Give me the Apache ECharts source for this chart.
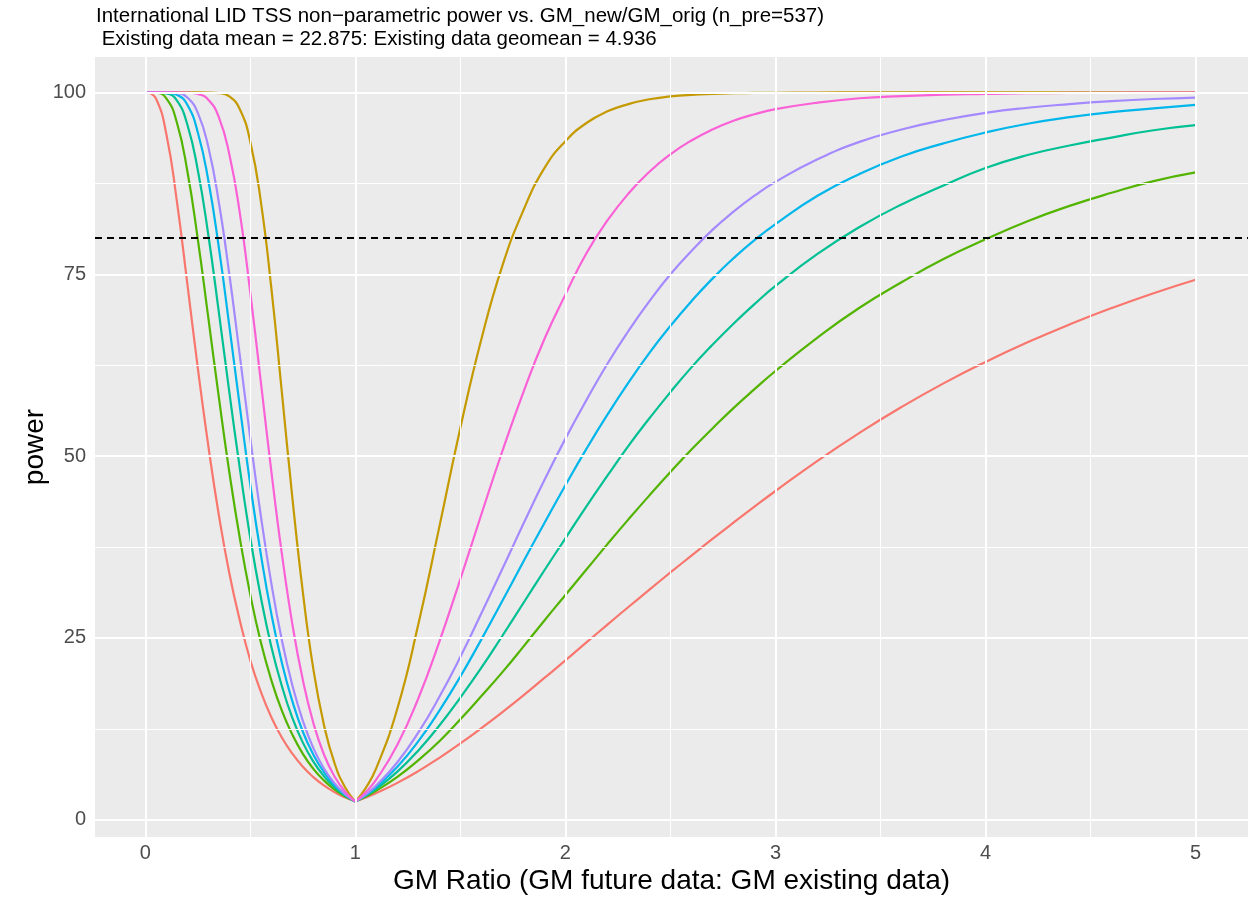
<!DOCTYPE html>
<html>
<head>
<meta charset="utf-8">
<title>International LID TSS non-parametric power</title>
<script src="https://cdn.jsdelivr.net/npm/echarts@6/dist/echarts.min.js"></script>
<style>
  html, body { margin: 0; padding: 0; background: #fff; }
  #chart { width: 1248px; height: 902px; }
</style>
</head>
<body>
<div id="chart"></div>
<script>
const ratio = [0.01, 0.05, 0.1, 0.15, 0.2, 0.25, 0.3, 0.35, 0.4, 0.45, 0.5, 0.55, 0.6, 0.65, 0.7, 0.75, 0.8, 0.85, 0.9, 0.95,
  1, 1.05, 1.1, 1.2, 1.3, 1.4, 1.5, 1.6, 1.7, 1.8, 1.9, 2, 2.1, 2.2, 2.3, 2.4, 2.5, 2.6, 2.7, 2.8, 2.9, 3,
  3.2, 3.4, 3.6, 3.8, 4, 4.2, 4.4, 4.6, 4.8, 5]

// power (%) per curve, same order as ratio
const powerRed = [100, 99.2, 94.3, 85.1, 73.7, 62.1, 51.4, 41.9, 33.9, 27.4, 21.9, 17.6, 14.1, 11.3, 9.08, 7.28, 5.86, 4.72, 3.81, 3.08,
  2.5, 3.05, 3.66, 5.07, 6.69, 8.51, 10.5, 12.6, 14.8, 17.1, 19.5, 21.9, 24.38, 26.83, 29.25, 31.64, 34.0, 36.32, 38.61, 40.85, 43.05, 45.2,
  49.35, 53.2, 56.75, 60.0, 62.95, 65.65, 68.1, 70.35, 72.4, 74.25]
const powerGold = [100, 100, 100, 100, 100, 100, 99.99, 99.92, 99.45, 97.7, 93.2, 85.0, 73.1, 58.8, 44.3, 31.3, 20.7, 13.1, 7.84, 4.51,
  2.5, 4.39, 7.12, 15.3, 26.9, 40.3, 53.9, 66.1, 76.2, 83.8, 89.6, 93.3, 95.8, 97.4, 98.4, 99.07, 99.45, 99.68, 99.81, 99.89, 99.94, 99.96,
  99.99, 100, 100, 100, 100, 100, 100, 100, 100, 100]
const powerGreen = [100, 99.97, 99.2, 95.9, 89.2, 79.8, 69.0, 58.1, 47.8, 38.7, 30.9, 24.4, 19.2, 15.0, 11.7, 9.06, 7.0, 5.41, 4.18, 3.23,
  2.5, 3.19, 4.0, 5.9, 8.2, 10.8, 13.8, 17.0, 20.3, 23.8, 27.4, 30.9, 34.4, 37.9, 41.3, 44.6, 47.8, 50.9, 53.8, 56.6, 59.2, 61.7,
  66.3, 70.4, 73.9, 77.1, 79.8, 82.3, 84.4, 86.2, 87.8, 89.0]
const powerTeal = [100, 100, 99.88, 98.9, 95.6, 89.3, 80.4, 69.8, 58.8, 48.3, 38.7, 30.6, 23.8, 18.4, 14.0, 10.6, 8.0, 6.0, 4.49, 3.35,
  2.5, 3.31, 4.26, 6.61, 9.53, 12.95, 16.8, 20.9, 25.3, 29.8, 34.3, 38.7, 43.1, 47.3, 51.4, 55.2, 58.8, 62.2, 65.3, 68.2, 70.9, 73.4,
  77.8, 81.5, 84.6, 87.2, 89.6, 91.4, 92.7, 93.8, 94.8, 95.5]
const powerBlue = [100, 100, 99.98, 99.7, 98.3, 94.5, 87.9, 78.7, 67.9, 56.8, 46.0, 36.5, 28.3, 21.6, 16.3, 12.1, 8.95, 6.56, 4.78, 3.46,
  2.5, 3.41, 4.51, 7.28, 10.8, 15.0, 19.7, 24.8, 30.1, 35.5, 40.8, 46.0, 51.0, 55.7, 60.1, 64.2, 67.9, 71.3, 74.4, 77.2, 79.7, 81.9,
  85.8, 88.8, 91.2, 93.0, 94.5, 95.7, 96.6, 97.3, 97.8, 98.3]
const powerPurple = [100, 100, 100, 99.92, 99.3, 97.2, 92.5, 84.9, 75.0, 63.8, 52.4, 41.8, 32.5, 24.7, 18.5, 13.6, 9.84, 7.07, 5.03, 3.55,
  2.5, 3.5, 4.73, 7.9, 12.0, 16.9, 22.4, 28.4, 34.5, 40.7, 46.7, 52.4, 57.7, 62.7, 67.2, 71.3, 75.0, 78.2, 81.1, 83.6, 85.8, 87.7,
  90.8, 93.2, 94.9, 96.2, 97.2, 97.9, 98.4, 98.8, 99.1, 99.3]
const powerPink = [100, 100, 100, 100, 99.99, 99.8, 99.0, 96.6, 91.5, 83.4, 72.4, 60.2, 47.9, 36.6, 26.9, 19.2, 13.3, 9.0, 5.97, 3.89,
  2.5, 3.82, 5.54, 10.3, 16.7, 24.5, 33.1, 42.0, 50.7, 58.8, 66.1, 72.2, 77.9, 82.4, 86.1, 89.1, 91.5, 93.4, 94.9, 96.1, 97.0, 97.7,
  98.6, 99.2, 99.5, 99.7, 99.8, 99.9, 99.93, 99.96, 99.98, 99.99]

const curveNames = ['curve 1', 'curve 2', 'curve 3', 'curve 4', 'curve 5', 'curve 6', 'curve 7']
const curveColors = ['#F8766D', '#C49A00', '#53B400', '#00C094', '#00B6EB', '#A58AFF', '#FB61D7']
const curves = [powerRed, powerGold, powerGreen, powerTeal, powerBlue, powerPurple, powerPink]

const targetPower = 80

const xMajor = [0, 1, 2, 3, 4, 5]
const xMinor = [0.5, 1.5, 2.5, 3.5, 4.5]
const yMajor = [0, 25, 50, 75, 100]
const yMinor = [12.5, 37.5, 62.5, 87.5]

const FONT = '"Liberation Sans", Arial, sans-serif'

const chart = echarts.init(document.getElementById('chart'))

// curves are split at ratio = 1 so the V keeps its sharp tip
const iOne = ratio.indexOf(1)
const curveSeries = []
curves.forEach((vals, i) => {
  const pts = ratio.map((x, j) => [x, vals[j]])
  ;[pts.slice(0, iOne + 1), pts.slice(iOne)].forEach(part => {
    curveSeries.push({
      name: curveNames[i],
      type: 'line',
      data: part,
      smooth: 0.5,
      showSymbol: false,
      z: 3,
      lineStyle: { color: curveColors[i], width: 2.2 },
      itemStyle: { color: curveColors[i] }
    })
  })
})

function gridLines(values, axis, width) {
  return values.map(v => ({ [axis]: v, lineStyle: { color: '#FFFFFF', width: width, type: 'solid' } }))
}

const option = {
  animation: false,
  backgroundColor: '#FFFFFF',
  title: {
    text: 'International LID TSS non\u2212parametric power vs. GM_new/GM_orig (n_pre=537)\n Existing data mean = 22.875: Existing data geomean = 4.936',
    left: 96,
    top: 5,
    padding: 0,
    textStyle: { fontFamily: FONT, fontSize: 20.5, fontWeight: 'normal', color: '#000', lineHeight: 23 }
  },
  grid: {
    left: 95, right: 0, top: 57, bottom: 65,
    containLabel: false,
    outerBoundsMode: 'none',
    show: true, backgroundColor: '#EBEBEB', borderWidth: 0
  },
  xAxis: {
    type: 'value',
    min: -0.2395,
    max: 5.2495,
    name: 'GM Ratio (GM future data: GM existing data)',
    nameLocation: 'middle',
    nameGap: 30,
    nameMoveOverlap: false,
    nameTextStyle: { fontFamily: FONT, fontSize: 28, color: '#000' },
    axisLine: { show: false },
    axisTick: { show: true, customValues: xMajor, length: 4.5, lineStyle: { color: '#333', width: 2 } },
    axisLabel: { customValues: xMajor, margin: 6, fontFamily: FONT, fontSize: 20, color: '#4D4D4D' },
    splitLine: { show: false }
  },
  yAxis: {
    type: 'value',
    min: -2.375,
    max: 104.875,
    name: 'power',
    nameLocation: 'middle',
    nameGap: 46,
    nameMoveOverlap: false,
    nameRotate: 90,
    nameTextStyle: { fontFamily: FONT, fontSize: 28, color: '#000' },
    axisLine: { show: false },
    axisTick: { show: true, customValues: yMajor, length: 4.5, lineStyle: { color: '#333', width: 2 } },
    axisLabel: { customValues: yMajor, margin: 9, fontFamily: FONT, fontSize: 20, color: '#4D4D4D' },
    splitLine: { show: false }
  },
  series: [
    {
      name: 'grid',
      type: 'line',
      data: [],
      z: 1,
      silent: true,
      markLine: {
        silent: true,
        symbol: ['none', 'none'],
        label: { show: false },
        animation: false,
        data: [
          ...gridLines(xMinor, 'xAxis', 1),
          ...gridLines(yMinor, 'yAxis', 1),
          ...gridLines(xMajor, 'xAxis', 2),
          ...gridLines(yMajor, 'yAxis', 2)
        ]
      }
    },
    ...curveSeries,
    {
      name: 'target',
      type: 'line',
      data: [],
      z: 5,
      silent: true,
      markLine: {
        silent: true,
        symbol: ['none', 'none'],
        label: { show: false },
        animation: false,
        lineStyle: { color: '#000', width: 2, type: [7, 5] },
        data: [{ yAxis: targetPower }]
      }
    }
  ]
}

chart.setOption(option)
</script>
</body>
</html>
